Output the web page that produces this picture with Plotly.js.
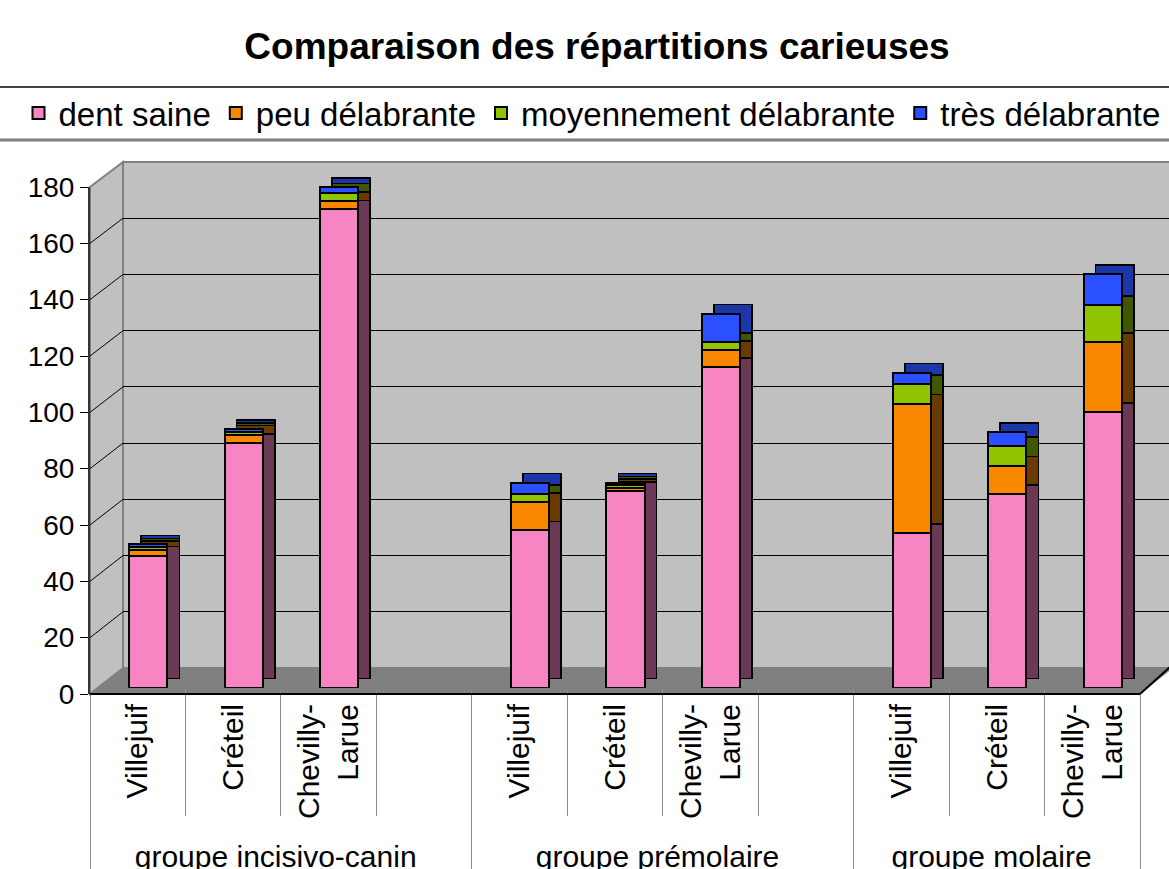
<!DOCTYPE html>
<html><head><meta charset="utf-8">
<script src="https://cdn.plot.ly/plotly-3.0.1.min.js"></script>
<style>html,body{margin:0;padding:0;background:#fff}#chart{width:1169px;height:869px}</style>
</head><body><div id="chart"></div>
<script>
// ---- data ----
const chartTitle = 'Comparaison des répartitions carieuses';
const groups = ['groupe incisivo-canin', 'groupe prémolaire', 'groupe molaire'];
const cities = ['Villejuif', 'Créteil', 'Chevilly-<br>Larue'];
const seriesNames = ['dent saine', 'peu délabrante', 'moyennement délabrante', 'très délabrante'];
const dentSaine = [47, 87, 170, 56, 70, 114, 55, 69, 98];
const peuDelabrante = [2, 3, 3, 10, 1, 6, 46, 10, 25];
const moyDelabrante = [1, 1, 3, 3, 1, 3, 7, 7, 13];
const tresDelabrante = [1, 1, 2, 4, 1, 10, 4, 5, 11];
const yTickVals = [0, 20, 40, 60, 80, 100, 120, 140, 160, 180];

// ---- styles ----
const FONT = 'Liberation Sans, Arial, sans-serif';
const frontColors = ['#f885c3', '#f98800', '#90c400', '#2a50ff'];
const sideColors = ['#6b3855', '#6b3a00', '#3e5700', '#1c37aa'];
const W = 1169, H = 869;
const fx = p => p / W;
const fy = p => 1 - p / H;
// geometry (pixels)
const FL = 90, FR = 1140;              // front frame x
const T0 = 694, T180 = 187;            // front value axis (tick labels)
const Z0 = 688, Z180 = 688 - 180 * 2.815; // bars' front faces
const BL = 123, BR = 1169, B0 = 668, B180 = 162; // back wall
const DX = 12, DY = 9;                 // bar depth

// ---- build categories (blank slot between groups) ----
const xg = [], xc = [], idx = [];
groups.forEach((g, gi) => {
  cities.forEach((c, ci) => { xg.push(g); xc.push(c); idx.push(gi * cities.length + ci); });
  if (gi < groups.length - 1) { xg.push(g); xc.push(' '); idx.push(-1); }
});
const seriesVals = [dentSaine, peuDelabrante, moyDelabrante, tresDelabrante];
const pick = arr => idx.map(i => (i < 0 ? null : arr[i]));

const traces = [];
traces.push({type: 'scatter', x: [], y: [], xaxis: 'x', yaxis: 'y', showlegend: false, hoverinfo: 'skip'});
seriesVals.forEach((vals, k) => {
  traces.push({
    type: 'bar', x: [xg, xc], y: pick(vals), xaxis: 'x2', yaxis: 'y2',
    width: 0.4, offset: -0.09, showlegend: false, hoverinfo: 'skip',
    marker: {color: sideColors[k], line: {color: '#000', width: 1.5}}
  });
});
seriesVals.forEach((vals, k) => {
  traces.push({
    type: 'bar', name: seriesNames[k], x: [xg, xc], y: pick(vals), xaxis: 'x3', yaxis: 'y3',
    width: 0.4, offset: -0.09,
    marker: {color: frontColors[k], line: {color: '#000', width: 2}}
  });
});
traces.push({type: 'scatter', x: [], y: [], xaxis: 'x4', yaxis: 'y4', showlegend: false, hoverinfo: 'skip'});

// ---- decoration shapes ----
const P = (x, y) => fx(x) + ',' + fy(y);
const tickY = v => T0 - v * (T0 - T180) / 180;
const backY = v => B0 - v * (B0 - B180) / 180;
const shapes = [
  {type: 'rect', xref: 'paper', yref: 'paper', x0: fx(BL), x1: fx(BR + 4), y0: fy(B0), y1: fy(B180),
   fillcolor: '#c0c0c0', line: {color: '#808080', width: 2}, layer: 'below'},
  {type: 'path', xref: 'paper', yref: 'paper', layer: 'below',
   path: 'M' + P(FL, T0) + 'L' + P(BL, B0) + 'L' + P(BL, B180) + 'L' + P(FL, T180) + 'Z',
   fillcolor: '#c0c0c0', line: {color: '#808080', width: 2}},
  {type: 'path', xref: 'paper', yref: 'paper', layer: 'below',
   path: 'M' + P(FL, T0) + 'L' + P(BL, B0) + 'L' + P(BR + 4, B0) + 'L' + P(FR, T0) + 'Z',
   fillcolor: '#808080', line: {width: 0}},
  {type: 'line', xref: 'paper', yref: 'paper', x0: fx(FL), y0: fy(T0), x1: fx(FR), y1: fy(T0),
   line: {color: '#000', width: 2}},
  {type: 'line', xref: 'paper', yref: 'paper', x0: fx(FR), y0: fy(T0), x1: fx(BR + 1), y1: fy(B0 - 1),
   line: {color: '#000', width: 2}},
  {type: 'line', xref: 'paper', yref: 'paper', x0: 0, x1: 1, y0: fy(87), y1: fy(87), line: {color: '#404040', width: 2}},
  {type: 'line', xref: 'paper', yref: 'paper', x0: 0, x1: 1, y0: fy(140), y1: fy(140), line: {color: '#808080', width: 3}}
];
yTickVals.filter(v => v > 0 && v < 180).forEach(v => {
  shapes.push({type: 'line', xref: 'paper', yref: 'paper', layer: 'below',
    x0: fx(FL), y0: fy(tickY(v)), x1: fx(BL), y1: fy(backY(v)), line: {color: '#000', width: 1}});
});

const layout = {
  width: W, height: H,
  margin: {l: 0, r: 0, t: 0, b: 0, autoexpand: false},
  paper_bgcolor: '#fff', plot_bgcolor: 'rgba(0,0,0,0)',
  font: {family: FONT, color: '#000'},
  barmode: 'stack', showlegend: true,
  title: {text: '<b>' + chartTitle + '</b>', font: {family: FONT, size: 37, color: '#000'},
          x: fx(597), xanchor: 'center', y: fy(46), yanchor: 'middle', yref: 'container'},
  legend: {orientation: 'h', x: fx(592), xanchor: 'center', y: fy(113), yanchor: 'middle',
           font: {family: FONT, size: 33, color: '#000'}, traceorder: 'normal',
           bgcolor: 'rgba(0,0,0,0)', itemclick: false, itemdoubleclick: false},
  // back wall grid
  xaxis: {domain: [fx(BL), 1], anchor: 'y', range: [0, 1], visible: false, fixedrange: true},
  yaxis: {domain: [fy(B0), fy(B180)], anchor: 'x', range: [0, 180], tickvals: yTickVals.filter(v => v > 0 && v < 180),
          showticklabels: false, ticks: '', showgrid: true, gridcolor: '#000', gridwidth: 1,
          zeroline: false, showline: false, fixedrange: true},
  // depth faces
  xaxis2: {type: 'multicategory', domain: [fx(FL + DX), fx(FR + DX)], anchor: 'y2', visible: false, fixedrange: true},
  yaxis2: {domain: [fy(Z0 - DY), fy(Z180 - DY)], anchor: 'x2', range: [0, 180], visible: false, fixedrange: true},
  // front faces + category labels
  xaxis3: {type: 'multicategory', domain: [fx(FL), fx(FR)], anchor: 'y3',
           showline: false,
           ticks: 'outside', tickson: 'boundaries', ticklen: 127, tickcolor: '#8c8c8c', tickwidth: 1,
           ticklabelstandoff: 9,
           tickangle: -90, tickfont: {family: FONT, size: 30, color: '#000'},
           showdividers: true, dividercolor: '#8c8c8c', dividerwidth: 1,
           showgrid: false, fixedrange: true},
  yaxis3: {domain: [fy(Z0), fy(Z180)], anchor: 'x3', range: [0, 180], visible: false, fixedrange: true},
  // value axis (front edge of the left wall)
  xaxis4: {domain: [fx(FL), fx(FR)], anchor: 'y4', range: [0, 1], visible: false, fixedrange: true},
  yaxis4: {domain: [fy(T0), fy(T180)], anchor: 'x4', range: [0, 180], tickvals: yTickVals,
           ticktext: yTickVals.map(String),
           ticks: 'outside', ticklen: 8, tickcolor: '#000', tickwidth: 1,
           showline: true, linecolor: '#333', linewidth: 2, showgrid: false, zeroline: false,
           tickfont: {family: FONT, size: 28, color: '#000'}, fixedrange: true},
  shapes: shapes
};

Plotly.newPlot('chart', traces, layout, {staticPlot: true, displayModeBar: false});
</script>
</body></html>
